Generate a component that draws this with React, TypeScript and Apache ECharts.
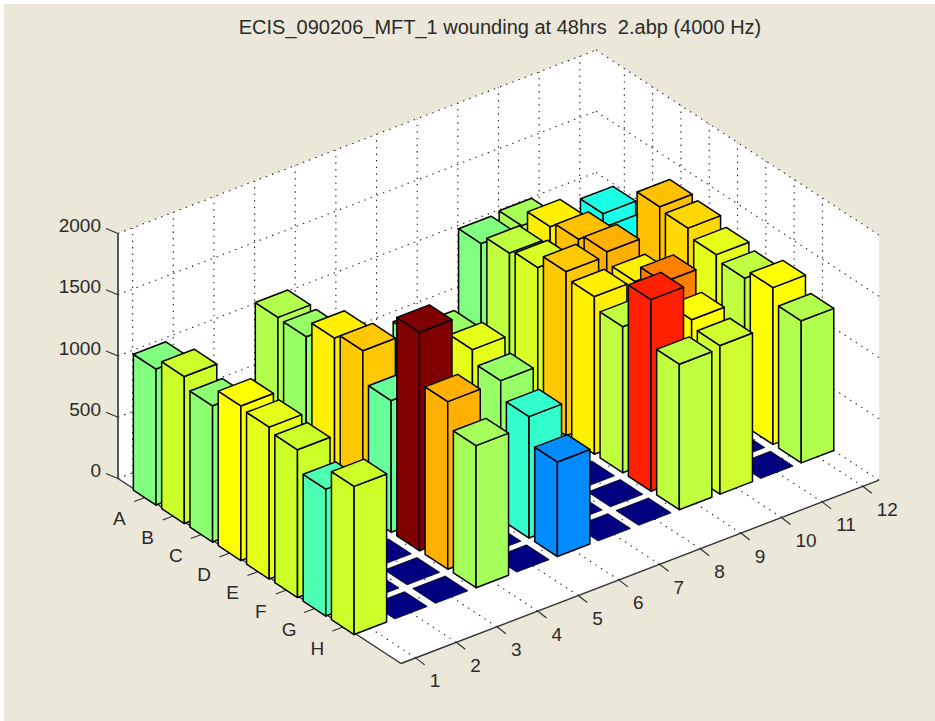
import React, { useEffect, useRef } from "react";
import * as echarts from "echarts";

const title = "ECIS_090206_MFT_1 wounding at 48hrs  2.abp (4000 Hz)";
const rowLabels = ["A", "B", "C", "D", "E", "F", "G", "H"];
const colLabels = ["1", "2", "3", "4", "5", "6", "7", "8", "9", "10", "11", "12"];
const zTicks = [0, 500, 1000, 1500, 2000];

// Values per plate row, columns 1..12
const rowA = [1110, 0, 0, 1150, 0, 0, 0, 0, 1116, 1135, 0, 978];
const rowB = [1200, 0, 0, 1143, 0, 0, 0, 0, 1189, 1277, 0, 911];
const rowC = [1112, 0, 0, 1283, 0, 1040, 0, 0, 1222, 1326, 0, 1336];
const rowD = [1262, 0, 0, 1331, 0, 1182, 0, 0, 1340, 1375, 0, 1313];
const rowE = [1240, 0, 0, 1075, 0, 1236, 0, 0, 1287, 1283, 0, 1247];
const rowF = [1206, 0, 0, 1784, 0, 1134, 0, 0, 1192, 1428, 0, 1206];
const rowG = [1036, 0, 0, 1368, 0, 991, 0, 0, 1564, 1273, 0, 1280];
const rowH = [1209, 0, 0, 1160, 0, 772, 0, 0, 1188, 1213, 0, 1160];
const valueRows = [rowA, rowB, rowC, rowD, rowE, rowF, rowG, rowH];

const Z = "#000080";
const colourA = ["#80ff80", Z, Z, "#b3ff4d", Z, Z, Z, Z, "#80ff80", "#a6ff59", Z, "#1affe6"];
const colourB = ["#ccff2a", Z, Z, "#99ff66", Z, Z, Z, Z, "#bfff40", "#fff000", Z, "#0dfff2"];
const colourC = ["#8cff73", Z, Z, "#fff000", Z, "#66ff99", Z, Z, "#d9ff26", "#ffc000", Z, "#ffc000"];
const colourD = ["#ffff00", Z, Z, "#ffc800", Z, "#99ff66", Z, Z, "#ffc800", "#ffb000", Z, "#ffd800"];
const colourE = ["#e6ff19", Z, Z, "#66ff99", Z, "#e6ff19", Z, Z, "#fff000", "#fff000", Z, "#e6ff19"];
const colourF = ["#ccff2a", Z, Z, "#800000", Z, "#99ff66", Z, Z, "#bfff40", "#ff8000", Z, "#bfff40"];
const colourG = ["#4dffb3", Z, Z, "#ffb000", Z, "#33ffcc", Z, Z, "#ff2000", "#ffff00", Z, "#ffff00"];
const colourH = ["#ccff2a", Z, Z, "#a6ff59", Z, "#008cff", Z, Z, "#bfff40", "#d0ff2f", Z, "#b3ff4d"];
const colourRows = [colourA, colourB, colourC, colourD, colourE, colourF, colourG, colourH];

const COL_MIN = 0.64, COL_MAX = 12.4, ROW_MAX = 10, HALF = 0.4;

const project = (col: number, row: number, z: number) => [
  118 + (col - COL_MIN) * 40.65 + row * 28.3,
  478.5 - (col - COL_MIN) * 15.6 + row * 18.5 - z * 0.1225,
];

const FONT = "19px 'Liberation Sans', Arial, sans-serif";
const TEXT = "#2a2a2a";

function renderFrame(_: any, api: any) {
  const p = (c: number, r: number, z: number) => api.coord(project(c, r, z));
  const children: any[] = [];
  const dotted = (a: number[], b: number[]) =>
    children.push({
      type: "line",
      shape: { x1: a[0], y1: a[1], x2: b[0], y2: b[1] },
      style: { stroke: "#222", lineWidth: 1.1, lineDash: [1.4, 5.2], fill: null },
    });
  const solid = (a: number[], b: number[], w = 1.4) =>
    children.push({
      type: "line",
      shape: { x1: a[0], y1: a[1], x2: b[0], y2: b[1] },
      style: { stroke: "#333", lineWidth: w, fill: null },
    });
  const ztop = zTicks[zTicks.length - 1];
  children.push({
    type: "polygon",
    shape: {
      points: [
        p(COL_MIN, ROW_MAX, 0), p(COL_MAX, ROW_MAX, 0), p(COL_MAX, ROW_MAX, ztop),
        p(COL_MAX, 0, ztop), p(COL_MIN, 0, ztop), p(COL_MIN, 0, 0),
      ],
    },
    style: { fill: "#fff", stroke: "none" },
  });
  // Grid on the floor and the two walls
  colLabels.forEach((_l, i) => {
    const c = i + 1;
    dotted(p(c, 0, 0), p(c, ROW_MAX, 0));
    dotted(p(c, 0, 0), p(c, 0, ztop));
  });
  rowLabels.forEach((_l, i) => {
    const r = i + 1;
    dotted(p(COL_MIN, r, 0), p(COL_MAX, r, 0));
    dotted(p(COL_MAX, r, 0), p(COL_MAX, r, ztop));
  });
  zTicks.forEach((z) => {
    dotted(p(COL_MIN, 0, z), p(COL_MAX, 0, z));
    dotted(p(COL_MAX, 0, z), p(COL_MAX, ROW_MAX, z));
  });
  // Axes
  solid(p(COL_MIN, 0, 0), p(COL_MIN, 0, ztop), 1.6);
  solid(p(COL_MIN, 0, 0), p(COL_MIN, ROW_MAX, 0));
  solid(p(COL_MIN, ROW_MAX, 0), p(COL_MAX, ROW_MAX, 0));
  zTicks.forEach((z) => {
    const a = p(COL_MIN, 0, z);
    solid(a, [a[0] - 12, a[1] - 5], 1.2);
    children.push({
      type: "text",
      style: {
        text: String(z), x: a[0] - 17, y: a[1] - 8, font: FONT, fill: TEXT,
        align: "right", verticalAlign: "middle",
      },
    });
  });
  rowLabels.forEach((l, i) => {
    const a = p(COL_MIN, i + 1, 0);
    solid(a, [a[0] - 12, a[1] + 4.5], 1.2);
    children.push({
      type: "text",
      style: {
        text: l, x: a[0] - 27, y: a[1] + 21.5, font: FONT, fill: TEXT,
        align: "center", verticalAlign: "middle",
      },
    });
  });
  colLabels.forEach((l, i) => {
    const a = p(i + 1, ROW_MAX, 0);
    solid(a, [a[0] + 9, a[1] + 7], 1.2);
    children.push({
      type: "text",
      style: {
        text: l, x: a[0] + 14, y: a[1] + 23, font: FONT, fill: TEXT,
        align: "left", verticalAlign: "middle",
      },
    });
  });
  return { type: "group", children };
}

function renderBar(_: any, api: any) {
  const col = api.value(0), row = api.value(1), v = api.value(2);
  const fill = colourRows[row - 1][col - 1];
  const p = (c: number, r: number, z: number) => api.coord(project(c, r, z));
  const l = col - HALF, rr = col + HALF, b = row - HALF, f = row + HALF;
  const style = { fill, stroke: "#000", lineWidth: v > 0 ? 1.5 : 0.8, lineJoin: "round" };
  const top = {
    type: "polygon",
    shape: { points: [p(l, b, v), p(rr, b, v), p(rr, f, v), p(l, f, v)] },
    style,
  };
  if (v <= 0) return top;
  return {
    type: "group",
    children: [
      { type: "polygon", shape: { points: [p(l, b, 0), p(l, f, 0), p(l, f, v), p(l, b, v)] }, style },
      { type: "polygon", shape: { points: [p(l, f, 0), p(rr, f, 0), p(rr, f, v), p(l, f, v)] }, style },
      top,
    ],
  };
}

export default function App() {
  const ref = useRef<HTMLDivElement>(null);
  useEffect(() => {
    document.body.style.margin = "0";
    const chart = echarts.init(ref.current!, null, { renderer: "svg" });
    const cells: number[][] = [];
    valueRows.forEach((vals, r) => vals.forEach((v, c) => cells.push([c + 1, r + 1, v])));
    // Painter's order: from the far corner (high column, low row) to the near one
    cells.sort((a, b) => a[1] - a[0] - (b[1] - b[0]));
    chart.setOption({
      animation: false,
      backgroundColor: "#fff",
      title: {
        text: title,
        left: 495,
        top: 12,
        textAlign: "center",
        textStyle: { fontFamily: "'Liberation Sans', Arial, sans-serif", fontSize: 20, fontWeight: "normal", color: TEXT },
      },
      grid: { left: 0, right: 0, top: 0, bottom: 0 },
      xAxis: { type: "value", min: 0, max: 935, show: false },
      yAxis: { type: "value", min: 0, max: 721, inverse: true, show: false },
      graphic: [
        { type: "rect", z: -10, silent: true, shape: { x: 4, y: 4, width: 931, height: 717 }, style: { fill: "#ebe8d9" } },
      ],
      series: [
        { type: "custom", silent: true, clip: false, z: 2, data: [[0, 0, 0]], renderItem: renderFrame },
        { type: "custom", silent: true, clip: false, z: 3, data: cells, renderItem: renderBar },
      ],
    });
    return () => chart.dispose();
  }, []);
  return <div ref={ref} style={{ width: 935, height: 721, position: "absolute", left: 0, top: 0 }} />;
}
